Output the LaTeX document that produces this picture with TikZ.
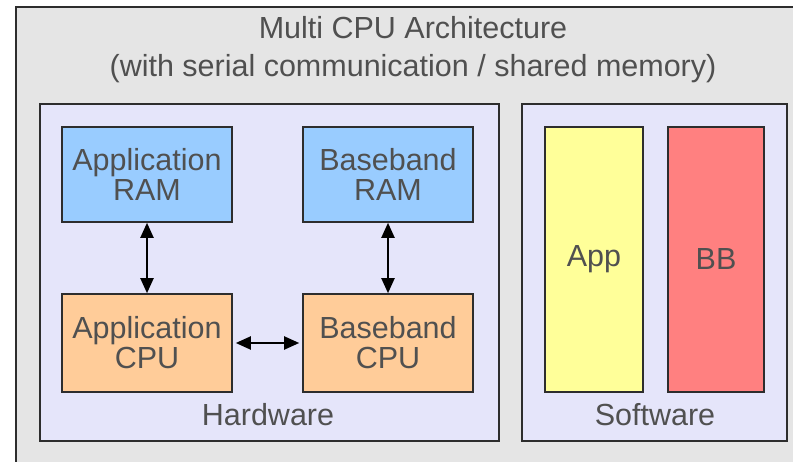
\documentclass[tikz,border=0pt]{standalone}
\usepackage{fontspec}
\setmainfont{Liberation Sans}
\usepackage{tikz}
\usetikzlibrary{arrows.meta,positioning}
\definecolor{outergray}{RGB}{229,229,229}
\definecolor{panelblue}{RGB}{229,229,250}
\definecolor{ramblue}{RGB}{153,204,255}
\definecolor{cpuorange}{RGB}{255,204,153}
\definecolor{appyellow}{RGB}{255,255,153}
\definecolor{bbred}{RGB}{255,128,128}
\definecolor{labelgray}{RGB}{80,80,80}
\definecolor{edgedark}{RGB}{45,45,45}
\tikzset{
  panel/.style={rectangle, draw=edgedark, line width=1.6pt, fill=panelblue, inner sep=0pt},
  hwbox/.style={rectangle, draw=edgedark, line width=1.6pt, inner sep=0pt, minimum width=170pt,
    align=center, text=labelgray, font=\fontsize{30.5}{30}\selectfont},
  rambox/.style={hwbox, fill=ramblue, minimum height=95pt},
  cpubox/.style={hwbox, fill=cpuorange, minimum height=98pt},
  swbox/.style={hwbox, minimum height=265pt},
  caption/.style={text=labelgray, font=\fontsize{30.5}{38}\selectfont, align=center, inner sep=0pt},
  link/.style={{Triangle[length=15pt,width=13pt]}-{Triangle[length=15pt,width=13pt]}, line width=2pt, black}
}

\begin{document}
\begin{tikzpicture}[x=1pt,y=-1pt]
\useasboundingbox (0,0) rectangle (793,462);
\clip (0,0) rectangle (793,462);
\fill[white] (0,0) rectangle (793,462);
% outer frame runs off the page at right and bottom
\draw[edgedark, line width=1.6pt, fill=outergray] (16,7) rectangle (810,480);
\node[caption] (title) at (413,50) {Multi CPU Architecture\\(with serial communication / shared memory)};

% hardware side
\node[panel, minimum width=459pt, minimum height=337pt] (hw) at (269.5,272.5) {};
\node[caption] (hwlabel) at (268,415) {Hardware};
\node[rambox] (aram) at (147,174.5) {Application\\RAM};
\node[rambox] (bram) at (388,174.5) {Baseband\\RAM};
\node[cpubox] (acpu) at (147,343) {Application\\CPU};
\node[cpubox] (bcpu) at (388,343) {Baseband\\CPU};
\draw[link] (aram) -- (acpu);
\draw[link] (bram) -- (bcpu);
\draw[link] ([xshift=3pt]acpu.east) -- ([xshift=-3pt]bcpu.west);

% software side
\node[panel, minimum width=265pt, minimum height=337pt] (sw) at (654.5,272.5) {};
\node[caption] (swlabel) at (655,415) {Software};
\node[swbox, fill=appyellow, minimum width=98pt] (app) at (594,259.5) {App};
\node[swbox, fill=bbred, minimum width=96pt] (bb) at (716,259.5) {BB};
\end{tikzpicture}
\end{document}
